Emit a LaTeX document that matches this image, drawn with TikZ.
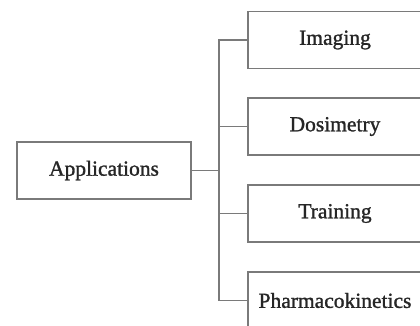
\documentclass[tikz,border=0pt]{standalone}
\usepackage{fontspec}
\setmainfont{Liberation Serif}
\newfontfamily\boxfont[FakeBold=1.2]{Liberation Serif}
\definecolor{linegrey}{HTML}{7A7A7A}
\definecolor{textdark}{HTML}{262626}
\begin{document}
\begin{tikzpicture}[x=1pt,y=-1pt,
  boxnode/.style={draw=linegrey,line width=1.2pt,minimum width=174pt,minimum height=57pt,inner sep=0pt,
    text=textdark,font=\boxfont\fontsize{21.5}{25}\selectfont},
  conn/.style={draw=linegrey,line width=1.2pt}]
\useasboundingbox (0,0) rectangle (420,326);
\clip (0,0) rectangle (420,326);
\fill[white] (0,0) rectangle (420,326);
\node[boxnode] (app) at (104,170.5) {Applications};
\node[boxnode] (img) at (335,40) {Imaging};
\node[boxnode] (dos) at (335,126.5) {Dosimetry};
\node[boxnode] (tra) at (335,213.5) {Training};
\node[boxnode] (pha) at (335,300.5) {Pharmacokinetics};
\coordinate (tx) at (219,0);
\draw[conn] (img.west) -- (img.west -| tx) -- (pha.west -| tx) -- (pha.west);
\draw[conn] (dos.west) -- (dos.west -| tx);
\draw[conn] (tra.west) -- (tra.west -| tx);
\draw[conn] (app.east) -- (app.east -| tx);
\end{tikzpicture}
\end{document}
